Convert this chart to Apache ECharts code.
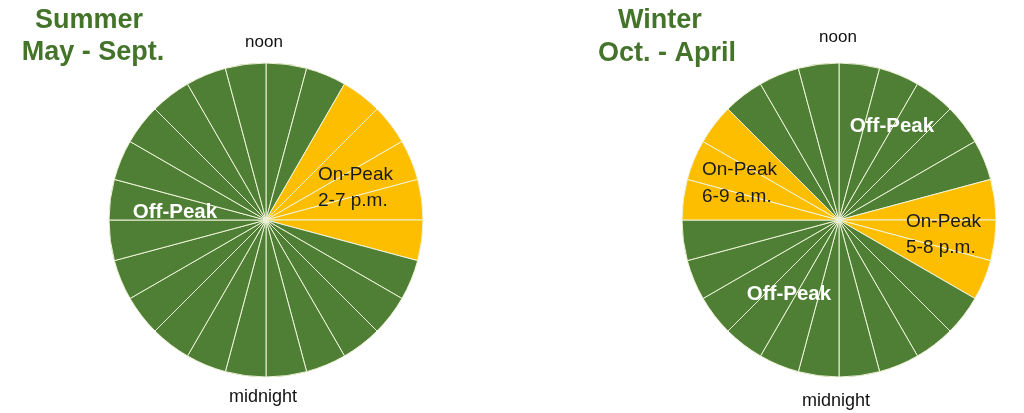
<!DOCTYPE html>
<html><head><meta charset="utf-8">
<script src="https://cdn.jsdelivr.net/npm/echarts@6/dist/echarts.min.js"></script>
<style>html,body{margin:0;padding:0;background:#fff}#c{width:1024px;height:413px}</style>
</head><body><div id="c"></div>
<script>
// Hours clockwise starting at noon (top)
const hours = [12,13,14,15,16,17,18,19,20,21,22,23,0,1,2,3,4,5,6,7,8,9,10,11];
const hourValues = hours.map(() => 1); // each slice = one hour
const summerPeakHours = [14,15,16,17,18];          // 2-7 p.m.
const winterPeakHours = [6,7,8,17,18,19];          // 6-9 a.m., 5-8 p.m.
const summerTitle = ['Summer', 'May - Sept.'];
const winterTitle = ['Winter', 'Oct. - April'];
const summerPeakLabel = ['On-Peak', '2-7 p.m.'];
const winterMorningLabel = ['On-Peak', '6-9 a.m.'];
const winterEveningLabel = ['On-Peak', '5-8 p.m.'];
const offPeakText = 'Off-Peak';
const topText = 'noon', bottomText = 'midnight';

const GREEN = '#4f7f34', YELLOW = '#fdbe00', TITLE = '#44732a';
const FONT = '"Liberation Sans", Arial, Helvetica, sans-serif';

function pieData(peak) {
  return hours.map((h, i) => ({
    name: String(h), value: hourValues[i],
    itemStyle: { color: peak.includes(h) ? YELLOW : GREEN }
  }));
}
function pieSeries(center, peak) {
  return {
    type: 'pie', center: center, radius: 157, startAngle: 90, clockwise: true,
    silent: true, animation: false, z: 1,
    label: { show: false }, labelLine: { show: false },
    itemStyle: { borderColor: '#eef3d8', borderWidth: 1 },
    emphasis: { disabled: true },
    data: pieData(peak)
  };
}
function txt(x, y, text, size, color, bold, align) {
  return { type: 'text', x: x, y: y, z: 100, zlevel: 0, silent: true,
    style: { text: text, font: (bold ? 'bold ' : '') + size + 'px ' + FONT,
      fill: color, textAlign: align || 'center', textVerticalAlign: 'middle' } };
}
const chart = echarts.init(document.getElementById('c'), null, { renderer: 'canvas' });
chart.setOption({
  animation: false,
  series: [ pieSeries([266, 220], summerPeakHours), pieSeries([839, 220], winterPeakHours) ],
  graphic: [
    txt(89, 21, summerTitle[0], 27, TITLE, true),
    txt(93, 53, summerTitle[1], 27, TITLE, true),
    txt(660, 21, winterTitle[0], 27, TITLE, true),
    txt(667, 54, winterTitle[1], 27, TITLE, true),
    txt(264, 42, topText, 17, '#111', false),
    txt(263, 397, bottomText, 18, '#111', false),
    txt(838, 37, topText, 17, '#111', false),
    txt(836, 401, bottomText, 18, '#111', false),
    txt(175, 212, offPeakText, 20.5, '#fff', true),
    txt(892, 126, offPeakText, 20.5, '#fff', true),
    txt(789, 294, offPeakText, 20.5, '#fff', true),
    txt(318, 175, summerPeakLabel[0], 19, '#1a1a1a', false, 'left'),
    txt(318, 201, summerPeakLabel[1], 19, '#1a1a1a', false, 'left'),
    txt(702, 170, winterMorningLabel[0], 19, '#1a1a1a', false, 'left'),
    txt(702, 197, winterMorningLabel[1], 19, '#1a1a1a', false, 'left'),
    txt(906, 222, winterEveningLabel[0], 19, '#1a1a1a', false, 'left'),
    txt(906, 248, winterEveningLabel[1], 19, '#1a1a1a', false, 'left')
  ]
});
</script></body></html>
